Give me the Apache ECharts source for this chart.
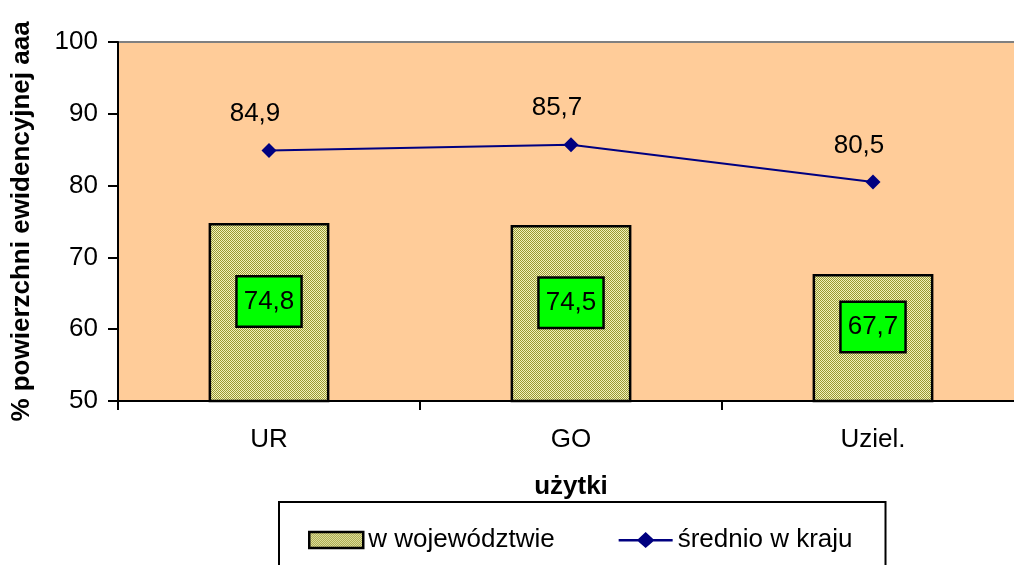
<!DOCTYPE html>
<html><head><meta charset="utf-8">
<script src="https://cdn.jsdelivr.net/npm/echarts@6/dist/echarts.min.js"></script>
<style>html,body{margin:0;padding:0;background:#fff}#c{width:1014px;height:565px}</style>
</head><body><div id="c"></div>
<script>
const categories = ['UR', 'GO', 'Uziel.'];
const wojewodztwo = [74.8, 74.5, 67.7];
const kraj = [84.9, 85.7, 80.5];
const yTicks = [50, 60, 70, 80, 90, 100];

function makePattern() {
  const c = document.createElement('canvas');
  c.width = 4; c.height = 2;
  const g = c.getContext('2d');
  const olive = '#999933', light = '#f2f2bc';
  g.fillStyle = light; g.fillRect(0, 0, 4, 2);
  g.fillStyle = olive;
  g.fillRect(0, 0, 1, 1); g.fillRect(1, 1, 1, 1);
  g.fillRect(2, 0, 1, 1); g.fillRect(3, 1, 1, 1);
  return c;
}
const FONT = 'Liberation Sans, Arial, sans-serif';
const fmt = p => String(p.value).replace('.', ',');
const lineIcon = 'path://M0,7 L19.5,7 L27,0 L34.5,7 L54,7 L54,9.5 L34.5,9.5 L27,16 L19.5,9.5 L0,9.5 Z';
const chart = echarts.init(document.getElementById('c'), null, {renderer: 'canvas'});
chart.setOption({
  animation: false,
  backgroundColor: '#ffffff',
  textStyle: {fontFamily: FONT},
  grid: {
    left: 118, top: 42, width: 906, height: 359,
    outerBoundsMode: 'none', containLabel: false,
    show: true, backgroundColor: '#ffcc99', borderColor: '#808080', borderWidth: 2
  },
  legend: {
    left: 279, top: 502,
    padding: [25, 33, 40, 29],
    borderColor: '#000', borderWidth: 2,
    itemWidth: 54, itemHeight: 16, itemGap: 64,
    textStyle: {fontSize: 26, color: '#000', fontFamily: FONT},
    data: [
      {name: 'w województwie', icon: 'rect', itemStyle: {borderColor: '#000', borderWidth: 2.5}},
      {name: 'średnio w kraju', icon: lineIcon, itemStyle: {color: '#000080', borderWidth: 0}}
    ]
  },
  xAxis: {
    type: 'category', data: categories,
    name: 'użytki', nameLocation: 'middle', nameGap: 73,
    nameTextStyle: {fontSize: 26, fontWeight: 'bold', color: '#000', fontFamily: FONT},
    axisLine: {lineStyle: {color: '#000', width: 2}},
    axisTick: {show: true, length: 9, lineStyle: {color: '#000', width: 2}},
    axisLabel: {fontSize: 26, color: '#000', margin: 26, fontFamily: FONT}
  },
  yAxis: {
    type: 'value', min: 50, max: 100, interval: 10,
    name: '% powierzchni ewidencyjnej aaa', nameLocation: 'middle', nameGap: 83,
    nameTextStyle: {fontSize: 26, fontWeight: 'bold', color: '#000', fontFamily: FONT},
    axisLine: {show: true, lineStyle: {color: '#000', width: 2}},
    axisTick: {show: true, length: 10, lineStyle: {color: '#000', width: 2}},
    axisLabel: {fontSize: 26, color: '#000', margin: 20, fontFamily: FONT,
      formatter: v => yTicks.includes(v) ? String(v) : ''},
    splitLine: {show: false}
  },
  series: [
    {
      name: 'w województwie', type: 'bar', data: wojewodztwo, barWidth: '40%',
      itemStyle: {color: {image: makePattern(), repeat: 'repeat'}, borderColor: '#000', borderWidth: 2.5},
      label: {
        show: true, position: 'inside', offset: [0, -11],
        formatter: fmt,
        fontSize: 26, color: '#000', fontFamily: FONT,
        backgroundColor: '#00ff00', borderColor: '#000', borderWidth: 2.5,
        padding: [12, 6, 10, 6]
      }
    },
    {
      name: 'średnio w kraju', type: 'line', data: kraj,
      lineStyle: {color: '#000080', width: 2},
      itemStyle: {color: '#000080'},
      symbol: 'diamond', symbolSize: 15,
      label: {
        show: true, position: 'top', offset: [-14, -11],
        formatter: fmt,
        fontSize: 26, color: '#000', fontFamily: FONT
      }
    }
  ]
});
</script></body></html>
